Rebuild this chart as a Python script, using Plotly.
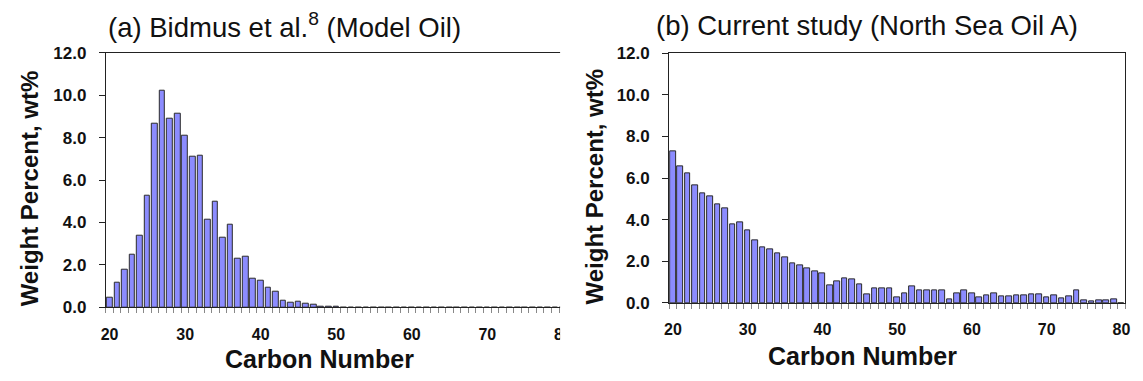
import plotly.graph_objects as go

# Carbon numbers on the category axis (C20 .. C80)
carbon_number = list(range(20, 81))

# (a) Bidmus et al. model oil, wt%
wt_bidmus = [
    0.45, 1.18, 1.78, 2.46, 3.37, 5.25, 8.66, 10.21, 8.91, 9.13,
    8.10, 7.09, 7.16, 4.13, 4.99, 3.27, 3.90, 2.27, 2.40, 1.34,
    1.24, 0.93, 0.72, 0.33, 0.21, 0.28, 0.16, 0.13, 0.05, 0.05,
    0.05, 0, 0, 0, 0, 0, 0, 0, 0, 0,
    0, 0, 0, 0, 0, 0, 0, 0, 0, 0,
    0, 0, 0, 0, 0, 0, 0, 0, 0, 0,
    0,
]

# (b) North Sea Oil A, wt%
wt_north_sea = [
    7.29, 6.56, 6.21, 5.63, 5.29, 5.10, 4.75, 4.53, 3.79, 3.86,
    3.50, 3.01, 2.66, 2.56, 2.40, 2.21, 1.89, 1.81, 1.66, 1.51,
    1.43, 0.84, 1.05, 1.17, 1.11, 0.88, 0.43, 0.71, 0.72, 0.72,
    0.27, 0.47, 0.79, 0.61, 0.61, 0.58, 0.58, 0.17, 0.47, 0.58,
    0.47, 0.27, 0.37, 0.44, 0.30, 0.30, 0.35, 0.35, 0.40, 0.43,
    0.27, 0.37, 0.24, 0.32, 0.61, 0.14, 0.08, 0.11, 0.11, 0.17,
    0,
]

x_tick_vals = [20, 30, 40, 50, 60, 70, 80]
y_tick_vals = [0, 2, 4, 6, 8, 10, 12]

W, H = 1143, 381
FONT = "Arial, 'Liberation Sans', sans-serif"
BAR_FILL = "#8C8CFF"
BAR_EDGE = "#2b2b2b"


def px_x(v):
    return v / W


def px_y(v):
    return 1 - v / H


fig = go.Figure()

fig.add_trace(go.Bar(
    x=carbon_number, y=wt_bidmus, width=0.75,
    marker=dict(color=BAR_FILL, line=dict(color=BAR_EDGE, width=1)),
    xaxis="x", yaxis="y", showlegend=False,
))
fig.add_trace(go.Bar(
    x=carbon_number, y=wt_north_sea, width=0.75,
    marker=dict(color=BAR_FILL, line=dict(color=BAR_EDGE, width=1)),
    xaxis="x2", yaxis="y2", showlegend=False,
))

minor_ticks = [c - 0.5 for c in carbon_number] + [80.5]


def x_axis(domain, anchor):
    return dict(
        domain=domain, anchor=anchor, range=[19.5, 80.5],
        tickmode="array", tickvals=x_tick_vals,
        ticktext=[str(v) for v in x_tick_vals],
        ticks="", ticklabelstandoff=12,
        tickfont=dict(family=FONT, size=16, color="#111", weight="bold"),
        showline=True, linecolor="#222", linewidth=1, mirror=True,
        showgrid=False, zeroline=False,
        minor=dict(tickmode="array", tickvals=minor_ticks, ticks="outside",
                   ticklen=5, tickcolor="#888", tickwidth=1, showgrid=False),
    )


def y_axis(domain, anchor, mirror):
    return dict(
        domain=domain, anchor=anchor, range=[0, 12],
        tickmode="array", tickvals=y_tick_vals,
        ticktext=[f"{v:.1f}" for v in y_tick_vals],
        ticks="outside", ticklen=6, tickcolor="#222", tickwidth=1,
        ticklabelstandoff=9,
        tickfont=dict(family=FONT, size=17, color="#111", weight="bold"),
        showline=True, linecolor="#222", linewidth=1, mirror=mirror,
        showgrid=False, zeroline=False,
    )


fig.update_layout(
    width=W, height=H,
    margin=dict(l=0, r=0, t=0, b=0),
    paper_bgcolor="white", plot_bgcolor="white",
    bargap=0,
    xaxis=x_axis([px_x(101.7), px_x(566.6)], "y"),
    yaxis=y_axis([px_y(314), px_y(46)], "x", False),
    xaxis2=x_axis([px_x(670), px_x(1130)], "y2"),
    yaxis2=y_axis([px_y(309.3), px_y(46.7)], "x2", True),
)

# The left panel is cut off at its right-hand side
fig.add_shape(type="rect", xref="paper", yref="paper",
              x0=px_x(560), x1=px_x(576), y0=0, y1=1,
              fillcolor="white", line=dict(width=0), layer="above")

title_font = dict(family=FONT, size=27.5, color="#111")
label_font = dict(family=FONT, size=25, color="#111", weight="bold")
ylabel_font = dict(family=FONT, size=24, color="#111", weight="bold")

annotations = [
    dict(text="(a) Bidmus et al.<sup>8</sup> (Model Oil)", x=px_x(282), y=px_y(17),
         font=title_font),
    dict(text="(b) Current study (North Sea Oil A)", x=px_x(870), y=px_y(17),
         font=title_font),
    dict(text="Carbon Number", x=px_x(317.5), y=px_y(368), font=label_font),
    dict(text="Carbon Number", x=px_x(865), y=px_y(365), font=label_font),
    dict(text="Weight Percent, wt%", x=px_x(25), y=px_y(189), font=ylabel_font,
         textangle=-90),
    dict(text="Weight Percent, wt%", x=px_x(595), y=px_y(187), font=ylabel_font,
         textangle=-90),
]
for a in annotations:
    fig.add_annotation(xref="paper", yref="paper", showarrow=False,
                       xanchor="center", yanchor="middle", **a)

fig.write_html("out.html")
